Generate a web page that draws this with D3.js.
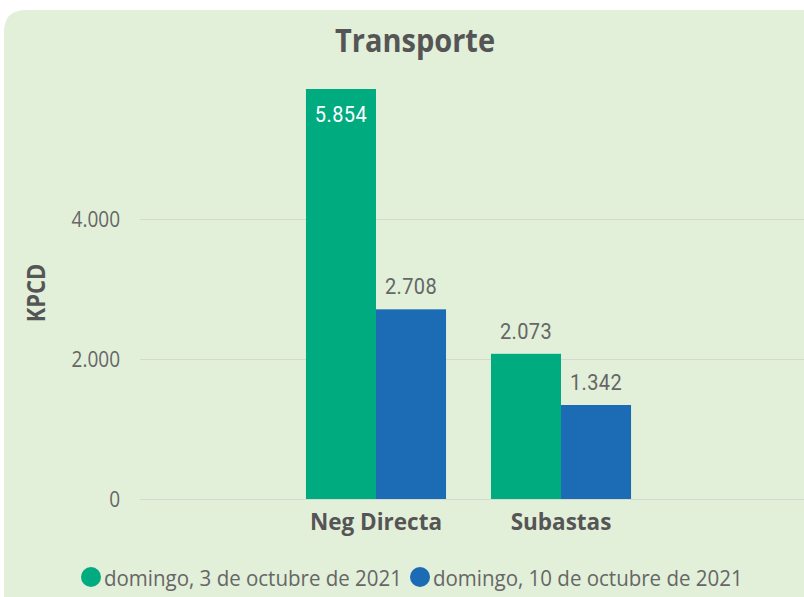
<!DOCTYPE html>
<html>
<head>
<meta charset="utf-8">
<script src="https://cdn.jsdelivr.net/npm/d3@7"></script>
<style>
  body { margin: 0; background: #ffffff; }
  svg { display: block; }
</style>
</head>
<body>
<div id="chart"></div>
<script>
// data
var categories = ["Neg Directa", "Subastas"];
var seriesNames = ["domingo, 3 de octubre de 2021", "domingo, 10 de octubre de 2021"];
var seriesColors = ["#01ab80", "#1b6bb5"];
var valuesOct3 = [5854, 2073];
var valuesOct10 = [2708, 1342];
var yTicks = [0, 2000, 4000];

var W = 804, H = 597;
var margin = {top: 89, right: 7, bottom: 98, left: 140};
var mainFont = "'Open Sans', sans-serif";

var svg = d3.select("#chart").append("svg")
    .attr("width", W)
    .attr("height", H);

// panel background with rounded top-left corner
svg.append("path")
    .attr("d", "M4,640 L4,32 Q4,10 26,10 L820,10 L820,640 Z")
    .attr("fill", "#e2efd9");

var fmt = function(v){ return d3.format(",")(v).replace(/,/g, "."); };

// text placed at (x, baseline) and stretched a little vertically like the original
function addText(parent, x, y, k, txt){
    return parent.append("text")
        .attr("transform", "translate(" + x + "," + y + ") scale(1," + k + ")")
        .text(txt);
}

var x0 = d3.scaleBand()
    .domain(categories)
    .range([margin.left, W - margin.right])
    .paddingInner(0.243)
    .paddingOuter(0.897);

var x1 = d3.scaleBand()
    .domain([0, 1])
    .range([0, x0.bandwidth()]);

var y = d3.scaleLinear()
    .domain([0, 5854])
    .range([H - margin.bottom, margin.top]);

// gridlines
svg.append("g")
    .selectAll("line")
    .data(yTicks)
    .enter().append("line")
    .attr("x1", margin.left)
    .attr("x2", W)
    .attr("y1", function(d){ return Math.round(y(d)) + 0.5; })
    .attr("y2", function(d){ return Math.round(y(d)) + 0.5; })
    .attr("stroke", "#d4dad0")
    .attr("stroke-width", 1.2);

// y tick labels
var yAxis = d3.axisLeft(y).tickValues(yTicks).tickFormat(fmt).tickSize(0).tickPadding(0);
var gy = svg.append("g")
    .attr("transform", "translate(120,0)")
    .call(yAxis);
gy.select(".domain").remove();
gy.selectAll("text")
    .attr("x", 0)
    .attr("y", 0)
    .attr("dy", null)
    .attr("transform", "translate(0,7.5) scale(1,1.1)")
    .attr("fill", "#666666")
    .style("font-family", mainFont)
    .style("font-size", "19px");

// y axis title
svg.append("text")
    .attr("transform", "translate(45,293) rotate(-90) scale(1,1.1)")
    .attr("text-anchor", "middle")
    .attr("fill", "#555555")
    .style("font-family", mainFont)
    .style("font-weight", "bold")
    .style("font-size", "22px")
    .text("KPCD");

// chart title
addText(svg, 415, 52, 1.12, "Transporte")
    .attr("text-anchor", "middle")
    .attr("fill", "#555555")
    .style("font-family", mainFont)
    .style("font-weight", "bold")
    .style("font-size", "29px");

// bars
var rows = categories.map(function(c, i){
    return {cat: c, vals: [valuesOct3[i], valuesOct10[i]]};
});

var groups = svg.selectAll(".cat")
    .data(rows)
    .enter().append("g")
    .attr("class", "cat")
    .attr("transform", function(d){ return "translate(" + x0(d.cat) + ",0)"; });

groups.selectAll("rect")
    .data(function(d){ return d.vals; })
    .enter().append("rect")
    .attr("x", function(d, i){ return x1(i); })
    .attr("width", x1.bandwidth())
    .attr("y", function(d){ return y(d); })
    .attr("height", function(d){ return y(0) - y(d); })
    .attr("fill", function(d, i){ return seriesColors[i]; });

// data labels: inside for the tallest bar, above for the rest
groups.selectAll(".lbl")
    .data(function(d){ return d.vals; })
    .enter().append("text")
    .attr("class", "lbl")
    .attr("transform", function(d, i){
        var ly = d > 5000 ? y(d) + 33 : y(d) - 15;
        return "translate(" + (x1(i) + x1.bandwidth() / 2) + "," + ly + ") scale(1,1.1)";
    })
    .attr("text-anchor", "middle")
    .attr("fill", function(d){ return d > 5000 ? "#ffffff" : "#666666"; })
    .style("font-family", "Roboto, sans-serif")
    .style("font-size", "20px")
    .style("letter-spacing", "0.4px")
    .text(fmt);

// category labels
svg.append("g")
    .selectAll("text")
    .data(categories)
    .enter().append("text")
    .attr("x", function(d){ return x0(d) + x0.bandwidth() / 2; })
    .attr("y", 530)
    .attr("text-anchor", "middle")
    .attr("fill", "#555555")
    .style("font-family", mainFont)
    .style("font-weight", "bold")
    .style("font-size", "22.5px")
    .text(function(d){ return d; });

// legend
var legendX = [91, 420];
var legend = svg.append("g")
    .selectAll("g")
    .data(seriesNames)
    .enter().append("g")
    .attr("transform", function(d, i){ return "translate(" + legendX[i] + ",577)"; });

legend.append("circle")
    .attr("r", 10)
    .attr("cx", 0)
    .attr("cy", 0)
    .attr("fill", function(d, i){ return seriesColors[i]; });

legend.append("text")
    .attr("transform", "translate(13,9) scale(1,1.05)")
    .attr("fill", "#666666")
    .style("font-family", mainFont)
    .style("font-size", "20.5px")
    .text(function(d){ return d; });
</script>
</body>
</html>
